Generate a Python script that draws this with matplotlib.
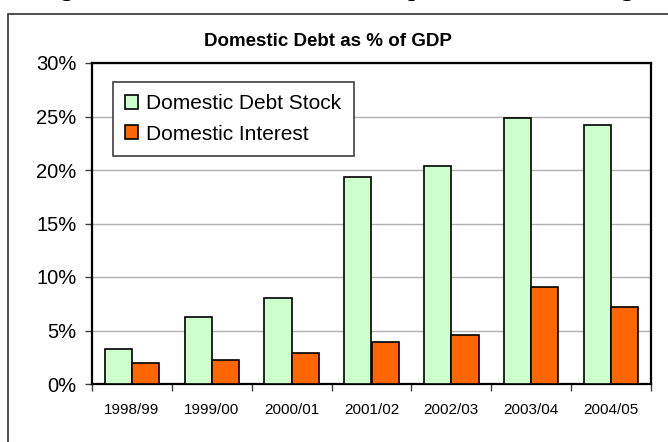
import numpy as np
import matplotlib
matplotlib.use('Agg')
import matplotlib.pyplot as plt
from matplotlib.patches import Rectangle

years = ['1998/99', '1999/00', '2000/01', '2001/02', '2002/03', '2003/04', '2004/05']
debt_stock = [3.3, 6.3, 8.0, 19.3, 20.4, 24.9, 24.2]
interest = [2.0, 2.2, 2.9, 3.9, 4.6, 9.1, 7.2]
yticks = [0, 5, 10, 15, 20, 25, 30]

plt.rcParams['font.family'] = ['Liberation Sans', 'DejaVu Sans']

fig = plt.figure(figsize=(6.68, 4.42), dpi=100)

# page caption, only its lower edge falls inside the figure
fig.text(0.06, 1 + 4 / 442, 'Figure 3: Domestic Debt Stock, Composition and Servicing',
         family=['Liberation Serif'], weight='bold', fontsize=17, va='baseline')

# outer chart border
fig.patches.append(Rectangle((8 / 668, -0.1), 1.0, (442 - 14) / 442 + 0.1,
                             transform=fig.transFigure, fill=False,
                             edgecolor='#303030', linewidth=1.2))

ax = fig.add_axes([92 / 668, 58 / 442, (651 - 92) / 668, (384 - 63) / 442])

x = np.arange(len(years))
w = 0.34
ax.bar(x - w / 2, debt_stock, w, color='#CCFFCC', edgecolor='black', linewidth=1.2,
       label='Domestic Debt Stock', zorder=3)
ax.bar(x + w / 2, interest, w, color='#FF6600', edgecolor='black', linewidth=1.2,
       label='Domestic Interest', zorder=3)

ax.set_xlim(-0.5, len(years) - 0.5)
ax.set_ylim(0, 30)
ax.set_yticks(yticks)
ax.set_yticklabels([f'{v}%' for v in yticks], fontsize=14.5)
ax.yaxis.grid(True, color='#b0b0b0', linewidth=1, zorder=0)

ax.set_xticks(x)
ax.set_xticklabels(years, fontsize=11)
ax.set_xticks(np.arange(-0.5, len(years)), minor=True)
ax.tick_params(axis='x', which='major', length=0, pad=14)
ax.tick_params(axis='x', which='minor', length=5, width=1, color='#404040')
ax.tick_params(axis='y', length=5, width=1, color='#404040', pad=6)

for s in ax.spines.values():
    s.set_linewidth(1.6)
    s.set_color('black')

# chart title is centred on the whole chart box, not the plot area
fig.text(328 / 668, 1 - 41 / 442, 'Domestic Debt as % of GDP', fontsize=13.5,
         weight='bold', ha='center', va='center')

leg = ax.legend(loc='upper left', bbox_to_anchor=(0.037, 0.942), borderaxespad=0,
                fontsize=15, frameon=True, fancybox=False, framealpha=1,
                edgecolor='#404040', handlelength=0.62, handleheight=0.62,
                handletextpad=0.4, labelspacing=0.55, borderpad=0.6)
leg.get_frame().set_linewidth(1.2)

plt.savefig('out.png', dpi=100)
plt.close()
